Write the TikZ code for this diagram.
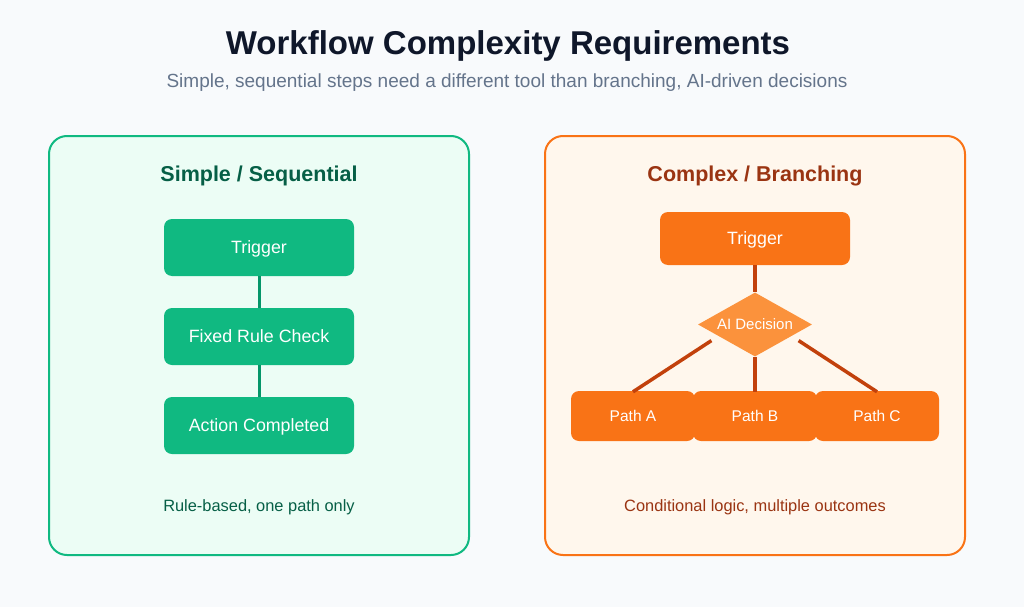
\documentclass[tikz,border=0pt]{standalone}
\usepackage{fontspec}
\setmainfont{Liberation Sans}
\usetikzlibrary{shapes.geometric, positioning}
\definecolor{pagebg}{HTML}{F8FAFC}
\definecolor{titlec}{HTML}{0F172A}
\definecolor{subc}{HTML}{64748B}
\definecolor{grnline}{HTML}{10B981}
\definecolor{grnfill}{HTML}{ECFDF5}
\definecolor{grnbox}{HTML}{10B981}
\definecolor{grnlink}{HTML}{059669}
\definecolor{grntext}{HTML}{065F46}
\definecolor{orgline}{HTML}{F97316}
\definecolor{orgfill}{HTML}{FFF7ED}
\definecolor{orgbox}{HTML}{F97316}
\definecolor{orgdec}{HTML}{FB923C}
\definecolor{orglink}{HTML}{C2410C}
\definecolor{orgtext}{HTML}{9A3412}
\tikzset{panel/.style={draw,line width=2pt,rounded corners=18pt},
         simplebox/.style={fill=grnbox,rounded corners=8pt,minimum width=190pt,minimum height=57pt,text=white,text depth=0pt,font=\fontsize{17.8}{21}\selectfont},
         trigbox/.style={fill=orgbox,rounded corners=8pt,minimum width=190pt,minimum height=53pt,text=white,text depth=0pt,font=\fontsize{17.8}{21}\selectfont},
         pathbox/.style={fill=orgbox,rounded corners=8pt,minimum width=124pt,minimum height=50pt,text=white,text depth=0pt,font=\fontsize{15.5}{18}\selectfont},
         decision/.style={diamond,aspect=1.78,fill=orgdec,minimum width=114pt,minimum height=64pt,inner sep=0pt,text=white,text depth=0pt,font=\fontsize{15}{18}\selectfont},
         glink/.style={draw=grnlink,line width=3pt},
         olink/.style={draw=orglink,line width=3.5pt},
        }

\begin{document}
\begin{tikzpicture}[x=1pt,y=-1pt]
        \fill[pagebg](0,0)rectangle(1024,607);
        \useasboundingbox(0,0)rectangle(1024,607);

        \node[text=titlec,font=\fontsize{33}{39}\selectfont\bfseries](title)at(508,46){Workflow Complexity Requirements};
        \node[text=subc,font=\fontsize{19}{23}\selectfont](sub)at(507,83){Simple, sequential steps need a different tool than branching, AI-driven decisions};

        % left panel
        \draw[panel,draw=grnline,fill=grnfill](49,136)rectangle(469,555);
        \node[text=grntext,font=\fontsize{21.5}{26}\selectfont\bfseries](lhead)at(259,176){Simple / Sequential};
        \node[simplebox](ltrig)at(259,247.5){Trigger};
        \node[simplebox](lrule)at(259,336.5){Fixed Rule Check};
        \node[simplebox](ldone)at(259,425.5){Action Completed};
        \draw[glink](ltrig.south)--(lrule.north);
        \draw[glink](lrule.south)--(ldone.north);
        \node[text=grntext,text depth=0pt,font=\fontsize{16.4}{20}\selectfont](lnote)at(259,506){Rule-based, one path only};

        % right panel
        \draw[panel,draw=orgline,fill=orgfill](545,136)rectangle(965,555);
        \node[text=orgtext,font=\fontsize{21.5}{26}\selectfont\bfseries](rhead)at(755,176){Complex / Branching};
        \node[trigbox](rtrig)at(755,238.5){Trigger};
        \node[decision](dec)at(755,324.5){AI Decision};
        \node[pathbox](pa)at(633,416){Path A};
        \node[pathbox](pc)at(877,416){Path C};
        \node[pathbox](pb)at(755,416){Path B};
        \draw[olink](rtrig.south)--(dec.north);
        \draw[olink]([xshift=-15pt]dec.south west)--([yshift=-1pt]pa.north);
        \draw[olink](dec.south)--([yshift=-1pt]pb.north);
        \draw[olink]([xshift=15pt]dec.south east)--([yshift=-1pt]pc.north);
        \node[text=orgtext,text depth=0pt,font=\fontsize{16.4}{20}\selectfont](rnote)at(755,506){Conditional logic, multiple outcomes};
    \end{tikzpicture}
\end{document}
